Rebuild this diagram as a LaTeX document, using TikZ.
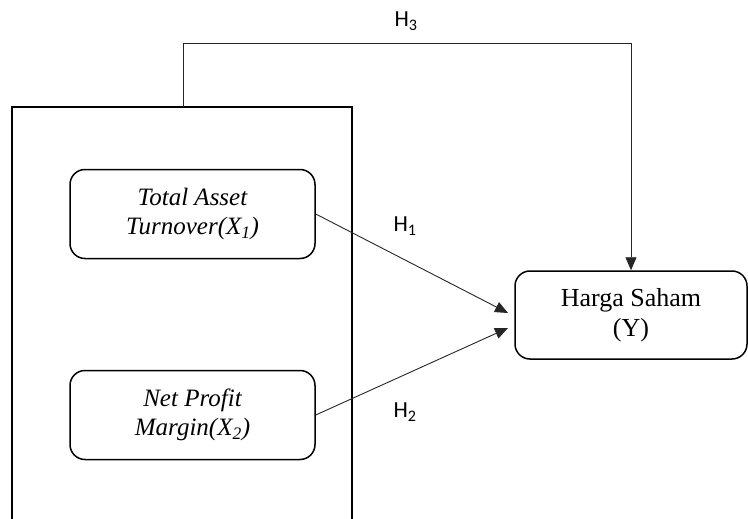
\documentclass[tikz,border=0pt]{standalone}
\usepackage{fontspec}
\setmainfont{Liberation Serif}
\newfontfamily\hypfont{Carlito}
\usetikzlibrary{arrows.meta}

\begin{document}
\begin{tikzpicture}[x=1pt, y=-1pt,
  var/.style={draw, line width=1.5pt, rounded corners=15pt, minimum width=245pt,
    minimum height=89pt, align=center, font=\fontsize{26}{30}\selectfont},
  link/.style={draw=black!85, line width=0.9pt, -{Triangle[length=13pt,width=11pt]}},
  hyp/.style={font=\hypfont\fontsize{23}{26}\selectfont}]
\useasboundingbox (0,0) rectangle (748,519);
% Kotak variabel X
\draw[line width=2pt] (12,519) -- (12,107) -- (352,107) -- (352,519);
\coordinate (grp) at (183,107);
\node[var, font=\itshape\fontsize{25}{29}\selectfont] (tat) at (192.5,214) {Total Asset\\Turnover(X\textsubscript{1})};
\node[var, font=\itshape\fontsize{25}{29}\selectfont] (npm) at (192.5,415) {Net Profit\\Margin(X\textsubscript{2})};
% Variabel Y
\node[var, minimum width=232pt, minimum height=88pt] (harga) at (631,315) {Harga Saham\\(Y)};
% Panah hipotesis
\coordinate (in1) at (508,313);
\coordinate (in2) at (508,328);
\draw[link] (tat.east) -- (in1);
\draw[link] (npm.east) -- (in2);
\draw[link] (grp) -- ++(0,-64) -| (harga.north);
\foreach \x/\y/\i in {406/21/3,405/226/1,405/412/2} {
  \node[hyp] (h\i) at (\x,\y) {H\textsubscript{\i}};
}
\end{tikzpicture}
\end{document}
